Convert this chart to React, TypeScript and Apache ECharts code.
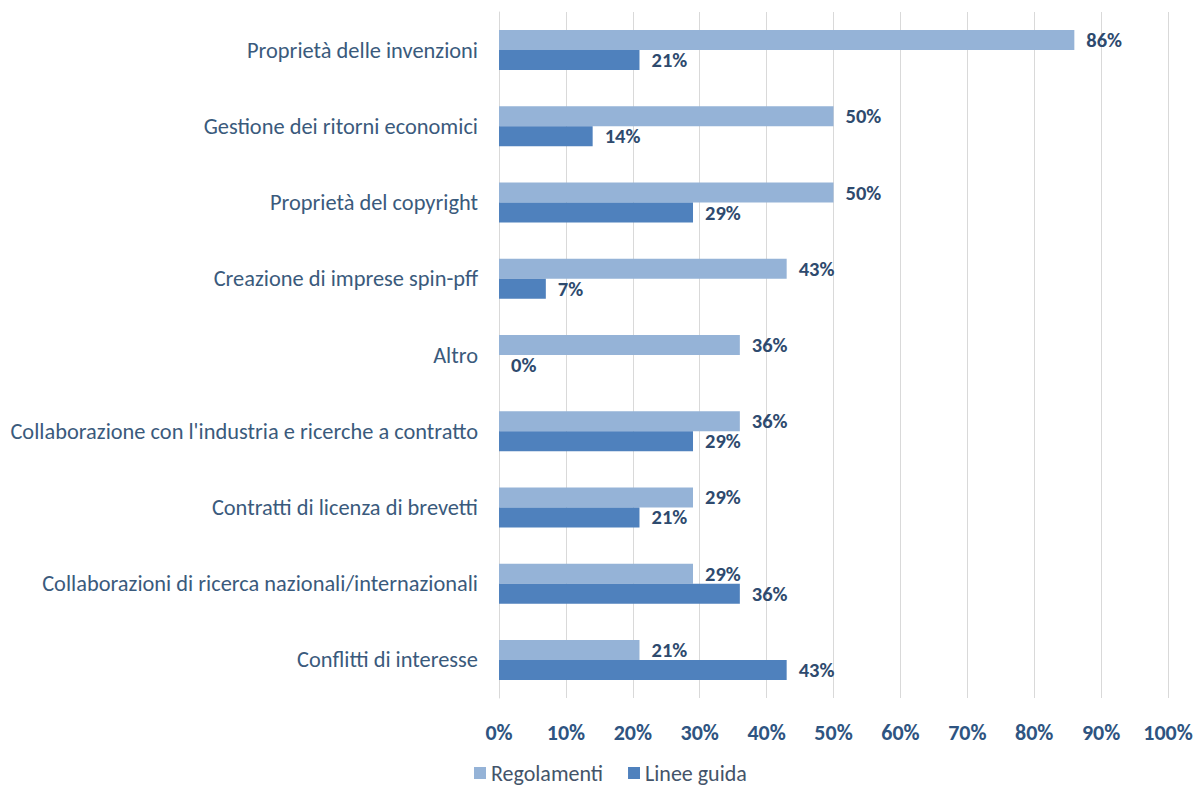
import React, { useEffect, useRef } from "react";
import * as echarts from "echarts";

const categories = [
  "Proprietà delle invenzioni",
  "Gestione dei ritorni economici",
  "Proprietà del copyright",
  "Creazione di imprese spin-pff",
  "Altro",
  "Collaborazione con l'industria e ricerche a contratto",
  "Contratti di licenza di brevetti",
  "Collaborazioni di ricerca nazionali/internazionali",
  "Conflitti di interesse",
];
const regolamenti = [86, 50, 50, 43, 36, 36, 29, 29, 21];
const lineeGuida = [21, 14, 29, 7, 0, 29, 21, 36, 43];
const seriesNames = ["Regolamenti", "Linee guida"];

const FONT = "Carlito, Lato, 'Open Sans', sans-serif";

export default function App() {
  const ref = useRef<HTMLDivElement>(null);
  useEffect(() => {
    const chart = echarts.init(ref.current!, undefined, { renderer: "svg" });
    const label = {
      show: true,
      position: "right" as const,
      distance: 12,
      formatter: "{c}%",
      color: "#2e4a6e",
      fontWeight: "bold" as const,
      fontSize: 20.5,
      fontFamily: FONT,
    };
    chart.setOption({
      animation: false,
      grid: { left: 499, right: 35, top: 12, bottom: 89, containLabel: false },
      legend: {
        top: 762,
        left: 474,
        padding: 0,
        itemWidth: 12,
        itemHeight: 12,
        itemGap: 25,
        itemStyle: { borderWidth: 0 },
        icon: "rect",
        textStyle: { fontSize: 22, color: "#44546a", fontFamily: FONT },
        data: seriesNames,
      },
      xAxis: {
        type: "value",
        min: 0,
        max: 100,
        interval: 10,
        axisLabel: {
          formatter: "{value}%",
          fontSize: 22,
          fontWeight: "bold",
          color: "#2e5481",
          margin: 23,
          fontFamily: FONT,
        },
        axisLine: { show: false },
        axisTick: { show: false },
        splitLine: { lineStyle: { color: "#d9d9d9", width: 1 } },
      },
      yAxis: {
        type: "category",
        inverse: true,
        data: categories,
        axisLine: { show: true, lineStyle: { color: "#d9d9d9" } },
        axisTick: { show: false },
        axisLabel: {
          fontSize: 22.4,
          color: "#3a5a7c",
          margin: 21,
          fontFamily: FONT,
        },
      },
      series: [
        {
          name: seriesNames[0],
          type: "bar",
          data: regolamenti,
          barWidth: 20,
          barGap: "0%",
          itemStyle: { color: "#95b3d7" },
          label,
        },
        {
          name: seriesNames[1],
          type: "bar",
          data: lineeGuida,
          barWidth: 20,
          barGap: "0%",
          itemStyle: { color: "#4f81bd" },
          label,
        },
      ],
    });
    return () => chart.dispose();
  }, []);
  return (
    <div
      ref={ref}
      style={{ position: "fixed", left: 0, top: 0, width: 1203, height: 787, background: "#fff" }}
    />
  );
}
